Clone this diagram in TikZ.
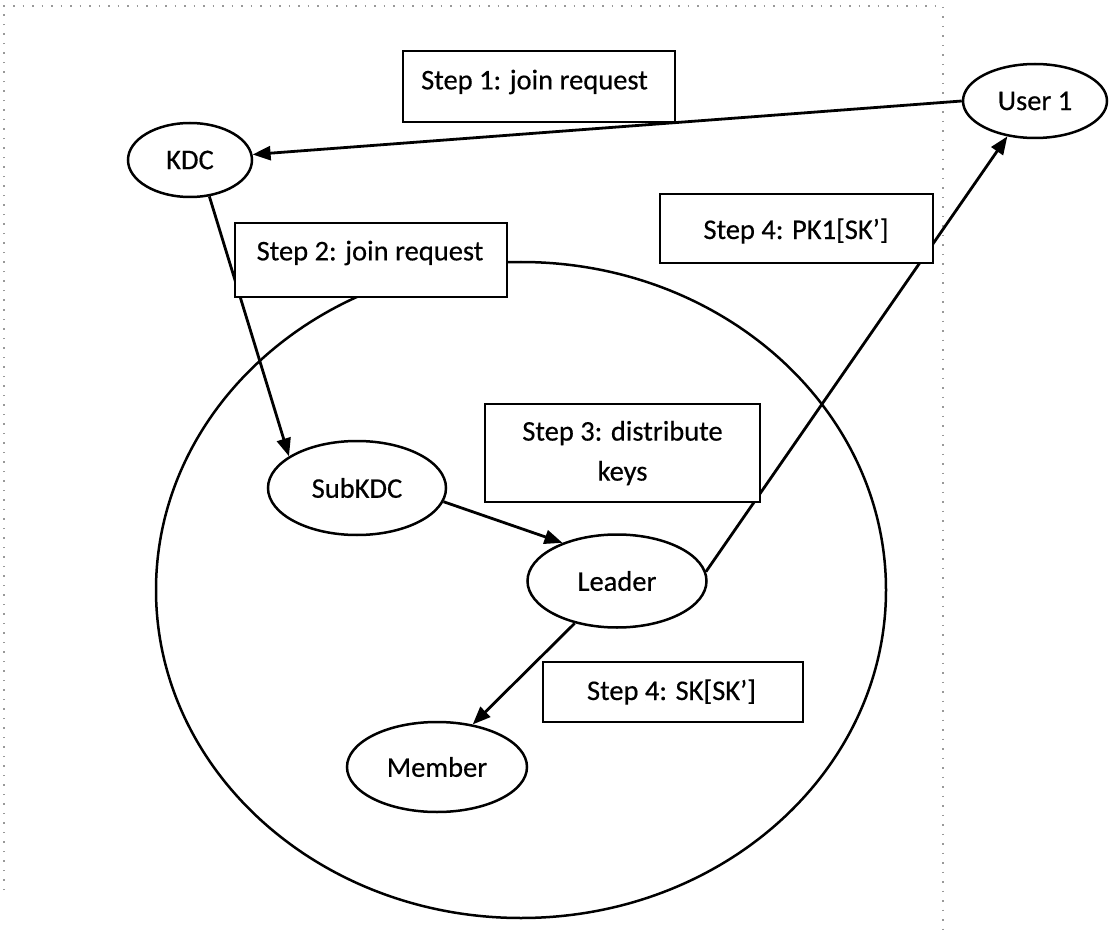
\documentclass[tikz,border=0pt]{standalone}
\usepackage{fontspec}
\setmainfont{Carlito}[FakeBold=0.4]
\usetikzlibrary{arrows.meta,shapes.geometric}
\begin{document}
\begin{tikzpicture}[x=1pt,y=-1pt,
  every node/.style={font=\fontsize{28.5}{40}\selectfont},
  oval/.style={draw, ellipse, line width=2.5pt, inner sep=0pt},
  stepbox/.style={draw, rectangle, line width=2.6pt, fill=white, inner sep=0pt},
  steptext/.style={inner sep=0pt, align=center},
  flow/.style={line width=2.8pt, -{Triangle[length=18pt,width=14pt]}},
  frame/.style={black!40, line width=1.2pt, dash pattern=on 1.5pt off 8pt}]
\useasboundingbox (0,0) rectangle (1109,936);

% page frame (dotted)
\coordinate (fbl) at (4,890);
\coordinate (ftl) at (4,6);
\coordinate (ftr) at (943,6);
\coordinate (fbr) at (943,936);
\draw[frame] (fbl) -- (ftl) -- (ftr) -- (fbr);

% the group
\node[draw, ellipse, line width=2.5pt, inner sep=0pt,
      minimum width=730, minimum height=656] (group) at (521,590) {};

% entities
\node[oval, minimum width=124, minimum height=74] (kdc) at (190,160) {KDC};
\node[oval, minimum width=144, minimum height=74] (user) at (1035,101) {User 1};
\node[oval, minimum width=178, minimum height=94] (subkdc) at (357,488) {SubKDC};
\node[oval, minimum width=179, minimum height=93] (leader) at (617,581) {Leader};
\node[oval, minimum width=180, minimum height=90] (member) at (437,767) {Member};

% messages
\draw[flow] (user.west) -- (kdc.5);
\draw[flow] (kdc.298) -- (subkdc.155);
\draw[flow] (subkdc.-9) -- (leader.145);
\draw[flow] (leader.6) -- (user.232);
\draw[flow] (leader.225) -- (member.50);

% step labels
\node[stepbox, minimum width=272, minimum height=71] (b1) at (539,86.5) {};
\node[steptext] (t1) at (534.5,82) {Step 1: join request};
\node[stepbox, minimum width=272, minimum height=74] (b2) at (371,260) {};
\node[steptext] (t2) at (370,253) {Step 2: join request};
\node[stepbox, minimum width=275, minimum height=98] (b3) at (622.5,453) {};
\node[steptext] (t3) at (622.5,453) {Step 3: distribute\\keys};
\node[stepbox, minimum width=273, minimum height=69] (b4) at (796.5,228.5) {};
\node[steptext] (t4) at (796,231) {Step 4: PK1[SK’]};
\node[stepbox, minimum width=260, minimum height=60] (b5) at (673,692) {};
\node[steptext] (t5) at (671.5,692) {Step 4: SK[SK’]};
\end{tikzpicture}
\end{document}
